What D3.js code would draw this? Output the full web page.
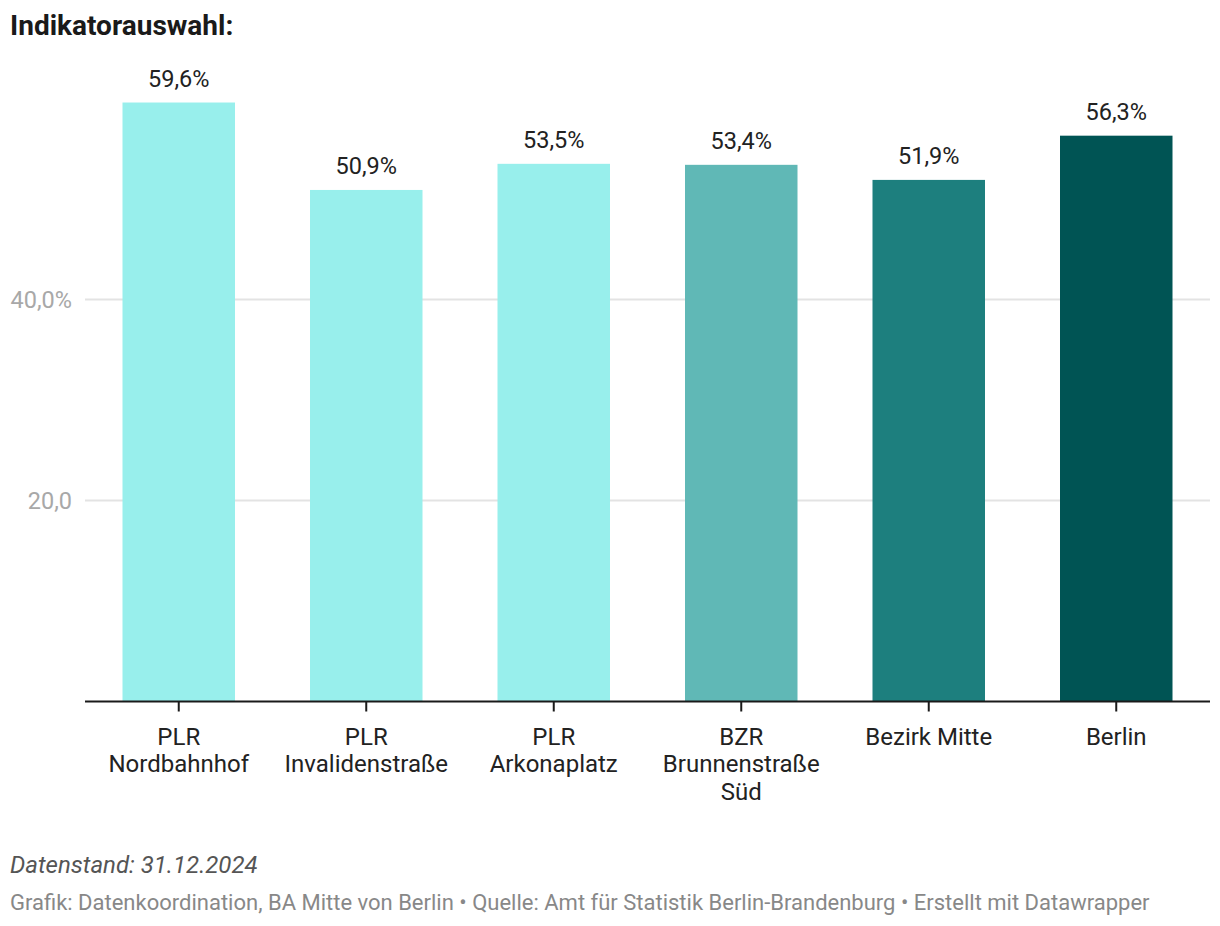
<!DOCTYPE html>
<html>
<head>
<meta charset="utf-8">
<script src="https://cdn.jsdelivr.net/npm/d3@7"></script>
<style>
  body { margin: 0; background: #fff; font-family: Roboto, sans-serif; }
</style>
</head>
<body>
<svg id="chart" width="1220" height="926"></svg>
<script>
// Daten
const categories = [
  ['PLR', 'Nordbahnhof'],
  ['PLR', 'Invalidenstraße'],
  ['PLR', 'Arkonaplatz'],
  ['BZR', 'Brunnenstraße', 'Süd'],
  ['Bezirk Mitte'],
  ['Berlin']
];
const values = [59.6, 50.9, 53.5, 53.4, 51.9, 56.3];
const barColors = ['#98efec', '#98efec', '#98efec', '#60b8b6', '#1d7f7e', '#005454'];
const yTicks = [20, 40];
const yTickLabels = ['20,0', '40,0%'];

const svg = d3.select('#chart');
const margin = { left: 85, right: 10, top: 98.5, bottom: 701.5 };

const x = d3.scaleBand()
  .domain(d3.range(values.length))
  .range([margin.left, 1220 - margin.right])
  .paddingInner(0.4)
  .paddingOuter(0.2);

const y = d3.scaleLinear()
  .domain([0, 60])
  .range([margin.bottom, margin.top]);

const fmt = v => v.toFixed(1).replace('.', ',');

// Titel
svg.append('text')
  .attr('x', 10).attr('y', 35)
  .style('font-size', '28px').style('font-weight', 700)
  .attr('fill', '#1a1a1a')
  .text('Indikatorauswahl:');

// Gitterlinien
svg.append('g').selectAll('line')
  .data(yTicks).enter().append('line')
  .attr('x1', margin.left).attr('x2', 1210)
  .attr('y1', d => y(d)).attr('y2', d => y(d))
  .attr('stroke', '#e3e3e3').attr('stroke-width', 2);

svg.append('g').selectAll('text')
  .data(yTicks).enter().append('text')
  .attr('x', 72).attr('y', d => y(d) + 8.5)
  .attr('text-anchor', 'end')
  .style('font-size', '23.5px')
  .attr('fill', '#a8a8a8')
  .text((d, i) => yTickLabels[i]);

// Balken
svg.append('g').selectAll('rect')
  .data(values).enter().append('rect')
  .attr('x', (d, i) => x(i))
  .attr('y', d => y(d))
  .attr('width', x.bandwidth())
  .attr('height', d => y(0) - y(d))
  .attr('fill', (d, i) => barColors[i]);

// Werte
svg.append('g').selectAll('text')
  .data(values).enter().append('text')
  .attr('x', (d, i) => x(i) + x.bandwidth() / 2)
  .attr('y', d => y(d) - 16)
  .attr('text-anchor', 'middle')
  .style('font-size', '23.5px')
  .attr('fill', '#222')
  .text(d => fmt(d) + '%');

// X-Achse
const xAxis = svg.append('g')
  .attr('transform', `translate(0,${y(0)})`)
  .call(d3.axisBottom(x).tickSize(10).tickFormat(''));
xAxis.select('.domain').attr('stroke', '#1a1a1a').attr('stroke-width', 2)
  .attr('d', `M${margin.left},0H1210`);
xAxis.selectAll('.tick line').attr('stroke', '#1a1a1a').attr('stroke-width', 2);

const xl = svg.append('g').selectAll('text')
  .data(categories).enter().append('text')
  .attr('text-anchor', 'middle')
  .style('font-size', '24px')
  .attr('fill', '#222');
xl.each(function (lines, i) {
  d3.select(this).selectAll('tspan')
    .data(lines).enter().append('tspan')
    .attr('x', x(i) + x.bandwidth() / 2)
    .attr('y', (d, j) => y(0) + 43 + j * 27.5)
    .text(d => d);
});

// Fußnoten
svg.append('text')
  .attr('x', 10).attr('y', 873)
  .style('font-size', '24px').style('font-style', 'italic')
  .attr('fill', '#555')
  .text('Datenstand: 31.12.2024');

svg.append('text')
  .attr('x', 10).attr('y', 910)
  .style('font-size', '22px')
  .attr('fill', '#888')
  .text('Grafik: Datenkoordination, BA Mitte von Berlin • Quelle: Amt für Statistik Berlin-Brandenburg • Erstellt mit Datawrapper');
</script>
</body>
</html>
